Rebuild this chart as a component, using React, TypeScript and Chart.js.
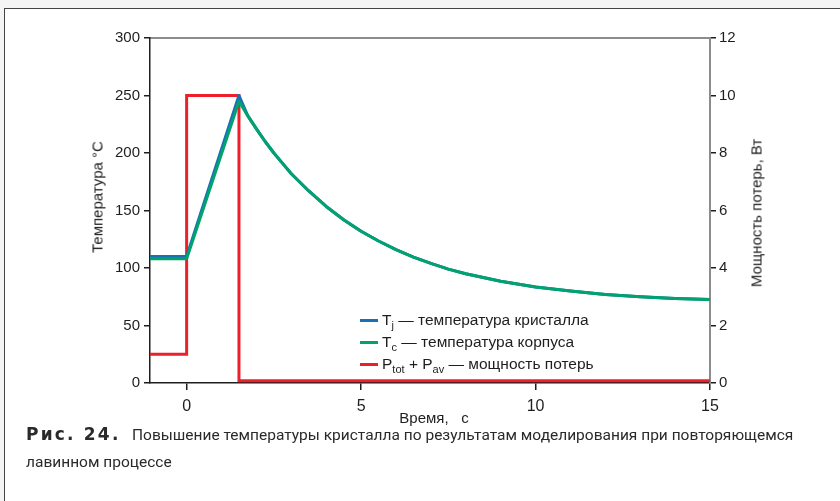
import React, { useEffect, useRef } from "react";
import { Chart, registerables } from "chart.js";

Chart.register(...registerables);

// Simulated heating during a repeated avalanche pulse
const timeS = [
  -1.05, 0, 1.5, 1.75, 2, 2.25, 2.5, 2.75, 3, 3.5, 4, 4.5, 5, 5.5, 6, 6.5, 7, 7.5, 8, 9, 10, 11, 12, 13, 14, 15,
];
const junctionTempC = [
  110, 110, 250, 232.5, 221, 210, 200, 191, 182, 167, 153.5, 142, 132, 123.5, 116, 109.5, 104, 99, 95, 88.5, 83.5, 80,
  77, 75, 73.5, 72.5,
];
const caseTempC = [
  108, 108, 245, 232.5, 221, 210, 200, 191, 182, 167, 153.5, 142, 132, 123.5, 116, 109.5, 104, 99, 95, 88.5, 83.5, 80,
  77, 75, 73.5, 72.5,
];

// Dissipated power, each value holds until the next time stamp
const powerTimeS = [-1.05, 0, 1.5, 15];
const powerW = [1, 10, 0.08, 0.08];

const timeTicks = [0, 5, 10, 15];
const tempTicks = [0, 50, 100, 150, 200, 250, 300];
const powerTicks = [0, 2, 4, 6, 8, 10, 12];

const BLUE = "#1b6fb4";
const GREEN = "#00a26d";
const RED = "#ec1f2b";
const INK = "#1e1e1e";

const SANS = "'Liberation Sans', Arial, sans-serif";
const CAPTION_FONT = "Roboto, 'Liberation Sans', sans-serif";

const toPoints = (xs: number[], ys: number[]) => xs.map((x, i) => ({ x, y: ys[i] }));

function HeatChart() {
  const ref = useRef<HTMLCanvasElement | null>(null);

  useEffect(() => {
    if (!ref.current) return;
    const tickFont = { family: SANS, size: 15 };
    const chart = new Chart(ref.current, {
      type: "line",
      data: {
        datasets: [
          {
            label: "Tc",
            data: toPoints(timeS, caseTempC),
            yAxisID: "y",
            borderColor: GREEN,
            borderWidth: 3,
            pointRadius: 0,
            tension: 0,
            borderJoinStyle: "round",
            order: 0,
          },
          {
            label: "Tj",
            data: toPoints(timeS, junctionTempC),
            yAxisID: "y",
            borderColor: BLUE,
            borderWidth: 3,
            pointRadius: 0,
            tension: 0,
            borderJoinStyle: "round",
            order: 1,
          },
          {
            label: "P",
            data: toPoints(powerTimeS, powerW),
            yAxisID: "y1",
            borderColor: RED,
            borderWidth: 3,
            pointRadius: 0,
            stepped: "before",
            order: 2,
          },
        ],
      },
      options: {
        animation: false,
        responsive: false,
        events: [],
        layout: { padding: { top: 38, left: 0, right: 0, bottom: 0 } },
        plugins: { legend: { display: false }, tooltip: { enabled: false } },
        scales: {
          x: {
            type: "linear",
            position: "bottom",
            min: -1.05,
            max: 15,
            afterBuildTicks: (s: any) => {
              s.ticks = timeTicks.map((v) => ({ value: v }));
            },
            afterFit: (s: any) => {
              s.height = 37;
            },
            ticks: { font: { family: SANS, size: 16 }, color: INK, padding: 7, maxRotation: 0, autoSkip: false },
            grid: { drawOnChartArea: false, drawTicks: true, tickLength: 7, color: INK, lineWidth: 1.5 },
            border: { display: true, color: INK, width: 1.5 },
          },
          xTop: {
            type: "linear",
            position: "top",
            min: -1.05,
            max: 15,
            afterFit: (s: any) => {
              s.height = 0;
            },
            ticks: { display: false },
            grid: { display: false },
            border: { display: true, color: "#8c8c8c", width: 2 },
          },
          y: {
            position: "left",
            min: 0,
            max: 300,
            afterBuildTicks: (s: any) => {
              s.ticks = tempTicks.map((v) => ({ value: v }));
            },
            afterFit: (s: any) => {
              s.width = 150;
            },
            ticks: { font: tickFont, color: INK, padding: 4 },
            grid: { drawOnChartArea: false, drawTicks: true, tickLength: 6, color: INK, lineWidth: 1.5 },
            border: { display: true, color: INK, width: 1.5 },
          },
          y1: {
            position: "right",
            min: 0,
            max: 12,
            afterBuildTicks: (s: any) => {
              s.ticks = powerTicks.map((v) => ({ value: v }));
            },
            afterFit: (s: any) => {
              s.width = 130;
            },
            ticks: { font: tickFont, color: INK, padding: 3 },
            grid: { drawOnChartArea: false, drawTicks: true, tickLength: 6, color: INK, lineWidth: 1.5 },
            border: { display: true, color: "#8c8c8c", width: 2 },
          },
        },
      } as any,
    });
    return () => chart.destroy();
  }, []);

  return <canvas ref={ref} width={840} height={420} style={{ position: "absolute", left: 0, top: 0 }} />;
}

const subStyle: React.CSSProperties = {
  fontSize: 11,
  verticalAlign: "baseline",
  position: "relative",
  top: 4,
};

function LegendRow({ color, children }: { color: string; children: React.ReactNode }) {
  return (
    <div style={{ display: "flex", alignItems: "center", height: 22 }}>
      <span style={{ display: "inline-block", width: 18, height: 3, background: color, marginRight: 4 }} />
      <span style={{ whiteSpace: "nowrap" }}>{children}</span>
    </div>
  );
}

export default function App() {
  return (
    <div
      style={{
        position: "fixed",
        left: 0,
        top: 0,
        width: 840,
        height: 501,
        overflow: "hidden",
        background: "#f4f4f4",
        color: INK,
        fontFamily: SANS,
      }}
    >
      <div
        style={{
          position: "absolute",
          left: 4,
          top: 8,
          width: 840,
          height: 500,
          borderTop: "1.5px solid #444",
          borderLeft: "1.5px solid #444",
          background: "#fff",
        }}
      />
      <HeatChart />

      <div
        style={{
          position: "absolute",
          left: 97,
          top: 197,
          transform: "translate(-50%, -50%) rotate(-90deg)",
          whiteSpace: "nowrap",
          fontSize: 15,
        }}
      >
        Температура °C
      </div>
      <div
        style={{
          position: "absolute",
          left: 756,
          top: 213,
          transform: "translate(-50%, -50%) rotate(-90deg)",
          whiteSpace: "nowrap",
          fontSize: 15,
        }}
      >
        Мощность потерь, Вт
      </div>
      <div
        style={{
          position: "absolute",
          left: 434,
          top: 417,
          transform: "translate(-50%, -50%)",
          whiteSpace: "pre",
          fontSize: 15,
        }}
      >
        {"Время,   с"}
      </div>

      <div style={{ position: "absolute", left: 360, top: 309, fontSize: 15.5, lineHeight: "18px" }}>
        <LegendRow color={BLUE}>
          T<sub style={subStyle}>j</sub> — температура кристалла
        </LegendRow>
        <LegendRow color={GREEN}>
          T<sub style={subStyle}>c</sub> — температура корпуса
        </LegendRow>
        <LegendRow color={RED}>
          P<sub style={subStyle}>tot</sub> + P<sub style={subStyle}>av</sub> — мощность потерь
        </LegendRow>
      </div>

      <div
        style={{
          position: "absolute",
          left: 26,
          top: 421,
          width: 810,
          fontFamily: CAPTION_FONT,
          fontSize: 15.5,
          lineHeight: "27px",
          color: "#2a2a2a",
          whiteSpace: "nowrap",
        }}
      >
        <b
          style={{
            display: "inline-block",
            width: 106,
            fontFamily: "'DejaVu Sans', sans-serif",
            fontWeight: 700,
            fontSize: 17,
            letterSpacing: 2.2,
          }}
        >
          Рис. 24.
        </b>
        Повышение температуры кристалла по результатам моделирования при повторяющемся
        <br />
        лавинном процессе
      </div>
    </div>
  );
}
